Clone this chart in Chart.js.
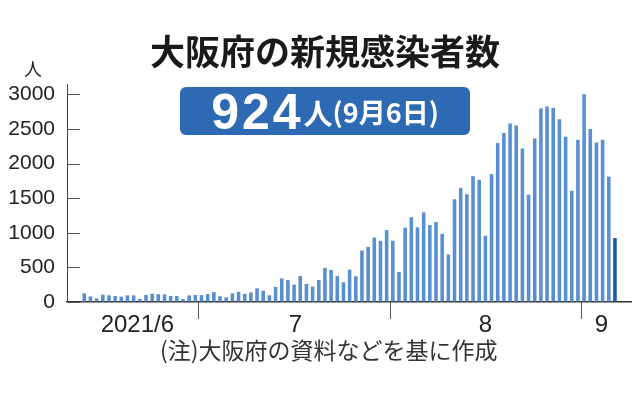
<!DOCTYPE html>
<html lang="ja">
<head>
<meta charset="utf-8">
<script src="https://cdn.jsdelivr.net/npm/chart.js@4.4.1/dist/chart.umd.min.js"></script>
<style>
  html, body { margin: 0; padding: 0; background: #fff; }
  #wrap { position: relative; width: 638px; height: 396px; background: #fff; overflow: hidden; }
  #c { position: absolute; left: 0; top: 0; }
  .ov { position: absolute; white-space: nowrap; }
  #title { left: 0; width: 650px; top: 28px; text-align: center; font-family: "Noto Sans CJK JP", sans-serif; font-weight: 700; font-size: 35px; line-height: 44px; color: #1a1a1a; }
  #unit { left: 24px; top: 57px; font-family: "Noto Sans CJK JP", sans-serif; font-size: 18px; line-height: 22px; color: #222; }
  #box { left: 180px; top: 87px; width: 290px; height: 48px; background: #2e6ab4; border-radius: 6px; color: #fff; text-align: center; line-height: 48px; }
  #box .big { font-family: "Liberation Sans", Arial, sans-serif; font-weight: 700; font-size: 50px; letter-spacing: 3px; vertical-align: middle; }
  #box .jp1 { font-family: "Noto Sans CJK JP", sans-serif; font-weight: 700; font-size: 29px; vertical-align: middle; }
  #box .jp2 { font-family: "Noto Sans CJK JP", sans-serif; font-weight: 700; font-size: 27px; vertical-align: middle; }
  #note { left: 160px; top: 334px; font-family: "Noto Sans CJK JP", sans-serif; font-size: 23px; line-height: 30px; color: #333; }
</style>
</head>
<body>
<div id="wrap">
  <canvas id="c" width="638" height="396"></canvas>
  <div class="ov" id="title">大阪府の新規感染者数</div>
  <div class="ov" id="unit">人</div>
  <div class="ov" id="box"><span class="big">924</span><span class="jp1">人</span><span class="jp2">(9月6日)</span></div>
  <div class="ov" id="note">(注)大阪府の資料などを基に作成</div>
</div>
<script>
// ---- data ----
const startDate = '2021-06-12';
const junCases = [125, 81, 52, 106, 96, 87, 77, 96, 95, 44, 101, 120, 113, 109, 87, 87, 44, 95, 101];
const julCases = [100, 116, 143, 83, 68, 126, 148, 118, 138, 198, 164, 97, 218, 341, 319,
                  251, 377, 261, 222, 319, 493, 464, 377, 285, 468, 372, 744, 797, 932, 884, 1038];
const augCases = [885, 435, 1073, 1224, 1079, 1296, 1112, 1156, 986, 687, 1485, 1649, 1557, 1818, 1765, 957,
                  1847, 2296, 2441, 2580, 2551, 2217, 1551, 2362, 2797, 2826, 2803, 2640, 2388, 1607, 2343];
const sepCases = [3004, 2498, 2304, 2343, 1812, 924];
const monthLabels = ['2021/6', '7', '8', '9'];
const monthStarts = ['2021-07-01', '2021-08-01', '2021-09-01'];
const yTicks = [0, 500, 1000, 1500, 2000, 2500, 3000];

// ---- build ----
const base = Date.UTC(2021, 5, 1);
const dayIndex = s => { const [y, m, d] = s.split('-').map(Number); return (Date.UTC(y, m - 1, d) - base) / 864e5; };
const cases = [...junCases, ...julCases, ...augCases, ...sepCases];
const d0 = dayIndex(startDate);
const points = cases.map((v, i) => ({ x: d0 + i, y: v }));
const boundaries = monthStarts.map(s => dayIndex(s) - 0.5);
const labelDays = [19.6, 45.2, 76, 94.8];

const axisMarks = {
  id: 'axisMarks',
  afterDraw(chart) {
    const ys = chart.scales.y, xs = chart.scales.x, ctx = chart.ctx, a = chart.chartArea;
    ctx.save();
    ctx.strokeStyle = '#555';
    ctx.lineWidth = 1;
    ys.ticks.forEach(t => {
      const py = Math.round(ys.getPixelForValue(t.value)) + 0.5;
      ctx.beginPath();
      ctx.moveTo(a.left, py);
      ctx.lineTo(a.left + 13, py);
      ctx.stroke();
    });
    boundaries.forEach(v => {
      const px = Math.round(xs.getPixelForValue(v)) + 0.5;
      ctx.beginPath();
      ctx.moveTo(px, a.bottom);
      ctx.lineTo(px, a.bottom + 17);
      ctx.stroke();
    });
    ctx.restore();
  }
};

new Chart(document.getElementById('c'), {
  type: 'bar',
  data: {
    datasets: [{
      data: points,
      backgroundColor: points.map((p, i) => i === points.length - 1 ? '#1c5aa6' : '#5a8fd0'),
      borderWidth: 0,
      barPercentage: 0.58,
      categoryPercentage: 1.0
    }]
  },
  options: {
    responsive: false,
    animation: false,
    devicePixelRatio: 1,
    layout: { padding: { left: 0, right: 7, top: 84, bottom: 0 } },
    plugins: { legend: { display: false }, tooltip: { enabled: false } },
    scales: {
      x: {
        type: 'linear',
        min: 8.2,
        max: 99.6,
        offset: false,
        afterBuildTicks: s => { s.ticks = labelDays.map(v => ({ value: v })); },
        afterFit: s => { s.height = 94; },
        grid: {
          drawOnChartArea: false,
          drawTicks: true,
          tickLength: 17,
          color: 'rgba(0,0,0,0)',
          tickColor: 'rgba(0,0,0,0)'
        },
        border: { display: true, color: '#333', width: 1.5 },
        ticks: {
          autoSkip: false,
          maxRotation: 0,
          minRotation: 0,
          padding: -8,
          color: '#222',
          font: { family: 'Liberation Sans, Arial, sans-serif', size: 24 },
          callback: (v, i) => monthLabels[i]
        }
      },
      y: {
        min: 0,
        max: 3150,
        afterBuildTicks: s => { s.ticks = yTicks.map(v => ({ value: v })); },
        afterFit: s => { s.width = 67; },
        grid: { drawOnChartArea: false, drawTicks: false },
        border: { display: true, color: '#444', width: 1 },
        ticks: {
          padding: 12,
          color: '#222',
          font: { family: 'Liberation Sans, Arial, sans-serif', size: 21 },
          callback: v => String(v)
        }
      }
    }
  },
  plugins: [axisMarks]
});
</script>
</body>
</html>
